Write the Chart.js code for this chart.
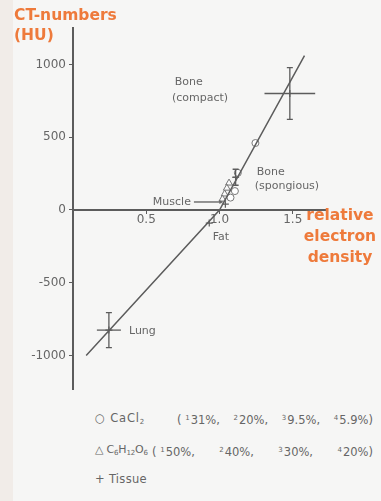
<!DOCTYPE html>
<html>
<head>
<meta charset="utf-8">
<script src="https://cdn.jsdelivr.net/npm/chart.js@4"></script>
<style>
  html, body { margin: 0; padding: 0; }
  body { width: 381px; height: 501px; background: #f6f6f5; overflow: hidden; font-family: "DejaVu Sans", sans-serif; }
  #wrap { position: relative; width: 381px; height: 501px; }
  #strip { position: absolute; left: 0; top: 0; width: 13px; height: 501px; background: #f1ece8; }
  #c { position: absolute; left: 0; top: 0; }
  .orange { position: absolute; color: #ee7a3b; font-weight: bold; font-size: 15.5px; line-height: 20px; }
  .row { position: absolute; color: #666; font-size: 11.5px; line-height: 14px; white-space: nowrap; }
  .paren { position: absolute; display: flex; justify-content: space-between; color: #666; font-size: 11.5px; line-height: 14px; white-space: nowrap; }
  sup { font-size: 7px; vertical-align: 4px; margin-right: 1px; }
  sub { font-size: 7px; vertical-align: -2px; }
</style>
</head>
<body>
<div id="wrap">
  <div id="strip"></div>
  <canvas id="c" width="381" height="400"></canvas>
  <div class="orange" style="left:14px;top:5px;">CT-numbers<br>(HU)</div>
  <div class="orange" style="left:298px;top:205px;width:84px;text-align:center;line-height:21px;">relative<br>electron<br>density</div>

  <div class="row" style="left:95px;top:411px;letter-spacing:0.8px;">○ CaCl<sub>2</sub></div>
  <div class="paren" style="left:177px;top:411px;width:196px;">
    <span>( <sup>1</sup>31%,</span><span><sup>2</sup>20%,</span><span><sup>3</sup>9.5%,</span><span><sup>4</sup>5.9%)</span>
  </div>
  <div class="row" style="left:95px;top:443px;font-size:11px;letter-spacing:-0.2px;">△ C<sub>6</sub>H<sub>12</sub>O<sub>6</sub></div>
  <div class="paren" style="left:152px;top:443px;width:221px;">
    <span>( <sup>1</sup>50%,</span><span><sup>2</sup>40%,</span><span><sup>3</sup>30%,</span><span><sup>4</sup>20%)</span>
  </div>
  <div class="row" style="left:95px;top:472px;letter-spacing:0.3px;">+ Tissue</div>
</div>

<script>
// axis ticks
var xTicks = [0.5, 1.0, 1.5];
var xTickLabels = ["0.5", "1.0", "1.5"];
var yTicks = [-1000, -500, 0, 500, 1000];

// calibration curve (bilinear)
var curveX = [0.09, 1.0, 1.58];
var curveY = [-1000, 0, 1060];

// CaCl2 solutions 31%, 20%, 9.5%, 5.9%
var caclX = [1.245, 1.125, 1.105, 1.075];
var caclY = [460, 255, 130, 85];

// C6H12O6 solutions 50%, 40%, 30%, 20%
var glucX = [1.065, 1.05, 1.035, 1.02];
var glucY = [185, 150, 110, 75];

// tissues
var tissueNames = ["Lung", "Fat", "Muscle", "Bone (spongious)", "Bone (compact)"];
var tissueX = [0.245, 0.93, 1.04, 1.11, 1.48];
var tissueY = [-825, -90, 40, 225, 800];
var tissueXErr = [0.082, 0, 0, 0.02, 0.173];
var tissueYErr = [120, 0, 0, 55, 178];

function pts(xs, ys) {
    return xs.map(function (x, i) { return { x: x, y: ys[i] }; });
}

var grey = "#5c5c5c";
var tickFont = { family: "DejaVu Sans", size: 12 };

// labels written next to the marks
var notes = [
    { text: "Bone", x: 0.695, y: 877 },
    { text: "(compact)", x: 0.675, y: 767 },
    { text: "Bone", x: 1.254, y: 262 },
    { text: "(spongious)", x: 1.24, y: 164 },
    { text: "Muscle", x: 0.545, y: 55 },
    { text: "Fat", x: 0.954, y: -185 },
    { text: "Lung", x: 0.382, y: -835 }
];

var errorBars = {
    id: "errorBars",
    afterDatasetsDraw: function (chart) {
        var ctx = chart.ctx, xs = chart.scales.x, ys = chart.scales.y;
        ctx.save();
        ctx.strokeStyle = grey;
        ctx.lineWidth = 1.3;
        tissueX.forEach(function (x, i) {
            var px = xs.getPixelForValue(x), py = ys.getPixelForValue(tissueY[i]);
            if (tissueXErr[i] > 0) {
                ctx.beginPath();
                ctx.moveTo(xs.getPixelForValue(x - tissueXErr[i]), py);
                ctx.lineTo(xs.getPixelForValue(x + tissueXErr[i]), py);
                ctx.stroke();
            }
            if (tissueYErr[i] > 0) {
                var top = ys.getPixelForValue(tissueY[i] + tissueYErr[i]);
                var bot = ys.getPixelForValue(tissueY[i] - tissueYErr[i]);
                ctx.beginPath();
                ctx.moveTo(px, top); ctx.lineTo(px, bot);
                ctx.moveTo(px - 3, top); ctx.lineTo(px + 3, top);
                ctx.moveTo(px - 3, bot); ctx.lineTo(px + 3, bot);
                ctx.stroke();
            }
        });
        // text notes
        ctx.fillStyle = "#666";
        ctx.font = "11px 'DejaVu Sans'";
        ctx.textAlign = "left";
        ctx.textBaseline = "middle";
        notes.forEach(function (n) {
            ctx.fillText(n.text, xs.getPixelForValue(n.x), ys.getPixelForValue(n.y));
        });
        // muscle pointer
        var m = notes[4];
        var sx = xs.getPixelForValue(m.x) + ctx.measureText(m.text).width + 3;
        var sy = ys.getPixelForValue(m.y);
        var ex = xs.getPixelForValue(tissueX[2]) - 5;
        ctx.beginPath();
        ctx.moveTo(sx, sy); ctx.lineTo(ex, sy);
        ctx.stroke();
        ctx.beginPath();
        ctx.moveTo(ex + 3, sy); ctx.lineTo(ex - 1, sy - 2); ctx.lineTo(ex - 1, sy + 2);
        ctx.closePath(); ctx.fill();
        ctx.restore();
    }
};

new Chart(document.getElementById("c"), {
    type: "scatter",
    data: {
        datasets: [
            {
                type: "line",
                data: pts(curveX, curveY),
                borderColor: grey,
                borderWidth: 1.5,
                pointRadius: 0,
                tension: 0,
                fill: false
            },
            {
                label: "CaCl2",
                data: pts(caclX, caclY),
                pointStyle: "circle",
                pointRadius: 3.5,
                borderColor: "#777",
                backgroundColor: "#fff",
                borderWidth: 1
            },
            {
                label: "C6H12O6",
                data: pts(glucX, glucY),
                pointStyle: "triangle",
                pointRadius: 4,
                borderColor: "#777",
                backgroundColor: "rgba(255,255,255,0.6)",
                borderWidth: 1
            },
            {
                label: "Tissue",
                data: pts(tissueX, tissueY),
                pointStyle: "cross",
                pointRadius: 3.5,
                borderColor: grey,
                borderWidth: 1.2
            }
        ]
    },
    options: {
        responsive: false,
        animation: false,
        layout: { padding: { left: 0, right: 56, top: 28, bottom: 10 } },
        plugins: { legend: { display: false }, tooltip: { enabled: false } },
        scales: {
            x: {
                type: "linear",
                min: 0,
                max: 1.72,
                position: { y: 0 },
                afterFit: function (s) { s.height = 0; },
                afterBuildTicks: function (s) { s.ticks = xTicks.map(function (v) { return { value: v }; }); },
                grid: { drawOnChartArea: false, tickLength: 3, color: grey, lineWidth: 1 },
                border: { color: grey, width: 2 },
                ticks: {
                    padding: 0,
                    color: "#666",
                    font: tickFont,
                    maxRotation: 0,
                    callback: function (v) { return xTickLabels[xTicks.indexOf(v)]; }
                }
            },
            y: {
                type: "linear",
                min: -1235,
                max: 1250,
                position: "left",
                afterFit: function (s) { s.width = 73; },
                afterBuildTicks: function (s) { s.ticks = yTicks.map(function (v) { return { value: v }; }); },
                grid: { drawOnChartArea: false, tickLength: 4, color: grey, lineWidth: 1 },
                border: { color: grey, width: 2 },
                ticks: {
                    padding: 3,
                    color: "#666",
                    font: tickFont,
                    callback: function (v) { return String(v); }
                }
            }
        }
    },
    plugins: [errorBars]
});
</script>
</body>
</html>
